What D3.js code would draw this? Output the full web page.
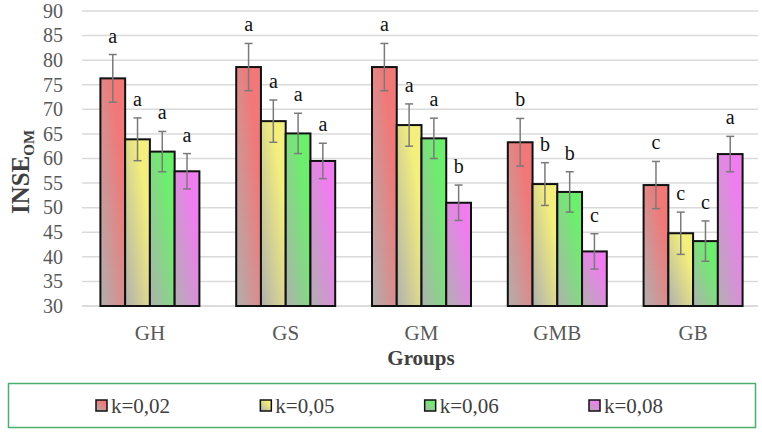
<!DOCTYPE html>
<html>
<head>
<meta charset="utf-8">
<script src="https://cdn.jsdelivr.net/npm/d3@7"></script>
<style>
  body { margin: 0; background: #fff; }
  svg { display: block; }
</style>
</head>
<body>
<svg id="chart" width="762" height="432" font-family="'Liberation Serif', 'DejaVu Serif', serif"></svg>
<script>
// Chart data
const groups = ["GH", "GS", "GM", "GMB", "GB"];
const series = ["k=0,02", "k=0,05", "k=0,06", "k=0,08"];
const colors = ["#f27777", "#f4ef7c", "#6cef6c", "#f07df0"];

// mean values per series (one entry per group)
const k002 = [76.3, 78.6, 78.6, 63.3, 54.6];
const k005 = [63.9, 67.6, 66.8, 54.8, 44.8];
const k006 = [61.4, 65.1, 64.1, 53.2, 43.2];
const k008 = [57.4, 59.5, 51.0, 41.1, 60.9];

// error (+/-)
const e002 = [4.85, 4.8, 4.8, 4.85, 4.8];
const e005 = [4.35, 4.3, 4.3, 4.35, 4.3];
const e006 = [4.1, 4.1, 4.1, 4.1, 4.1];
const e008 = [3.6, 3.6, 3.6, 3.6, 3.6];

// significance letters
const l002 = ["a", "a", "a", "b", "c"];
const l005 = ["a", "a", "a", "b", "c"];
const l006 = ["a", "a", "a", "b", "c"];
const l008 = ["a", "a", "b", "c", "a"];

const yTicks = [30, 35, 40, 45, 50, 55, 60, 65, 70, 75, 80, 85, 90];

const values = [k002, k005, k006, k008];
const errors = [e002, e005, e006, e008];
const letters = [l002, l005, l006, l008];

const svg = d3.select("#chart");

// scales
const x0 = d3.scaleBand().domain(groups).range([82, 761]).padding(0);
const x1 = d3.scaleBand().domain(series).range([0, 99]).padding(0);
const y = d3.scaleLinear().domain([30, 90]).range([306, 11]);

// gradients (grey bottom-left to colour top-right)
const defs = svg.append("defs");
series.forEach((s, i) => {
  const g = defs.append("linearGradient")
    .attr("id", "grad" + i)
    .attr("x1", 0).attr("y1", 1)
    .attr("x2", 1).attr("y2", 0);
  g.append("stop").attr("offset", 0).attr("stop-color", "#b0b0b0");
  g.append("stop").attr("offset", 0.75).attr("stop-color", colors[i]);
  g.append("stop").attr("offset", 1).attr("stop-color", colors[i]);
});

// gridlines
svg.append("g")
  .selectAll("line")
  .data(yTicks)
  .join("line")
  .attr("x1", 82).attr("x2", 758)
  .attr("y1", d => y(d)).attr("y2", d => y(d))
  .attr("stroke", d => d === 30 ? "#cfcfcf" : "#dadada")
  .attr("stroke-width", 1.5);

// y tick labels
svg.append("g")
  .selectAll("text")
  .data(yTicks)
  .join("text")
  .attr("x", 63)
  .attr("y", d => y(d))
  .attr("dy", "0.34em")
  .attr("text-anchor", "end")
  .attr("font-size", 20)
  .attr("fill", "#595959")
  .text(d => d);

// rows for bars
const rows = [];
groups.forEach((g, gi) => {
  series.forEach((s, si) => {
    rows.push({
      group: g, series: s, si: si,
      value: values[si][gi],
      err: errors[si][gi],
      letter: letters[si][gi]
    });
  });
});

const offset = x0.bandwidth() / 2 - 49.5;
const bx = d => x0(d.group) + offset + x1(d.series);

// bars
svg.append("g")
  .selectAll("rect")
  .data(rows)
  .join("rect")
  .attr("x", d => bx(d))
  .attr("y", d => y(d.value))
  .attr("width", x1.bandwidth())
  .attr("height", d => y(30) - y(d.value))
  .attr("fill", d => "url(#grad" + d.si + ")")
  .attr("stroke", "#111")
  .attr("stroke-width", 2);

// error bars
const cx = d => bx(d) + x1.bandwidth() / 2;
const eb = svg.append("g").attr("stroke", "#7a7a7a").attr("stroke-width", 1.5);
eb.selectAll("line.v")
  .data(rows)
  .join("line")
  .attr("class", "v")
  .attr("x1", cx).attr("x2", cx)
  .attr("y1", d => y(d.value + d.err))
  .attr("y2", d => y(d.value - d.err));
eb.selectAll("line.top")
  .data(rows)
  .join("line")
  .attr("class", "top")
  .attr("x1", d => cx(d) - 4).attr("x2", d => cx(d) + 4)
  .attr("y1", d => y(d.value + d.err))
  .attr("y2", d => y(d.value + d.err));
eb.selectAll("line.bot")
  .data(rows)
  .join("line")
  .attr("class", "bot")
  .attr("x1", d => cx(d) - 4).attr("x2", d => cx(d) + 4)
  .attr("y1", d => y(d.value - d.err))
  .attr("y2", d => y(d.value - d.err));

// letters
svg.append("g")
  .selectAll("text")
  .data(rows)
  .join("text")
  .attr("x", cx)
  .attr("y", d => y(d.value + d.err) - 12)
  .attr("text-anchor", "middle")
  .attr("font-size", 20)
  .attr("fill", "#111")
  .text(d => d.letter);

// category labels
svg.append("g")
  .selectAll("text")
  .data(groups)
  .join("text")
  .attr("x", d => x0(d) + x0.bandwidth() / 2)
  .attr("y", 333)
  .attr("dy", "0.34em")
  .attr("text-anchor", "middle")
  .attr("font-size", 21)
  .attr("fill", "#595959")
  .text(d => d);

// axis titles
svg.append("text")
  .attr("x", 421)
  .attr("y", 365)
  .attr("text-anchor", "middle")
  .attr("font-size", 21)
  .attr("font-weight", "bold")
  .attr("fill", "#404040")
  .text("Groups");

const yt = svg.append("text")
  .attr("transform", "translate(29,172) rotate(-90)")
  .attr("text-anchor", "middle")
  .attr("font-weight", "bold")
  .attr("fill", "#404040");
yt.append("tspan").attr("font-size", 25).text("INSE");
yt.append("tspan").attr("font-size", 15).attr("dy", 5).text("OM");

// legend
svg.append("rect")
  .attr("x", 8.5).attr("y", 383.5)
  .attr("width", 747).attr("height", 44)
  .attr("fill", "none")
  .attr("stroke", "#4caf6e")
  .attr("stroke-width", 1.5);

const legendX = d3.scalePoint().domain(series).range([96, 589]);
const li = svg.append("g")
  .selectAll("g")
  .data(series)
  .join("g")
  .attr("transform", d => `translate(${legendX(d)}, 406)`);
li.append("rect")
  .attr("x", 0).attr("y", -6)
  .attr("width", 11).attr("height", 11)
  .attr("fill", (d, i) => "url(#grad" + i + ")")
  .attr("stroke", "#111")
  .attr("stroke-width", 1.5);
li.append("text")
  .attr("x", 15)
  .attr("y", 0)
  .attr("dy", "0.34em")
  .attr("font-size", 21)
  .attr("fill", "#404040")
  .text(d => d);
</script>
</body>
</html>
